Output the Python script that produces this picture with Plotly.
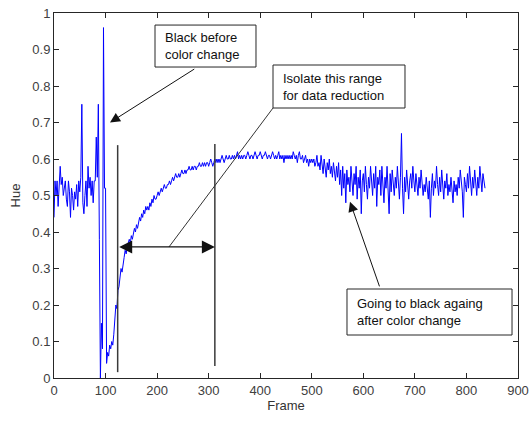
import plotly.graph_objects as go

# Hue per frame (every 2nd frame)
hue = [
    0.44, 0.54, 0.50, 0.54, 0.47, 0.52, 0.58, 0.53, 0.55, 0.50,
    0.52, 0.54, 0.49, 0.47, 0.54, 0.51, 0.44, 0.52, 0.50, 0.46,
    0.51, 0.49, 0.53, 0.47, 0.54, 0.51, 0.55, 0.75, 0.48, 0.45,
    0.50, 0.54, 0.47, 0.58, 0.52, 0.55, 0.50, 0.54, 0.48, 0.54,
    0.54, 0.66, 0.55, 0.75, 0.38, 0.00, 0.15, 0.08, 0.96, 0.52,
    0.52, 0.04, 0.07, 0.06, 0.09, 0.08, 0.10, 0.09, 0.12, 0.16,
    0.20, 0.19, 0.24, 0.25, 0.27, 0.30, 0.29, 0.32, 0.33, 0.35,
    0.34, 0.36, 0.37, 0.38, 0.37, 0.39, 0.38, 0.40, 0.41, 0.40,
    0.42, 0.41, 0.43, 0.44, 0.43, 0.45, 0.44, 0.46, 0.45, 0.47,
    0.46, 0.47, 0.46, 0.48, 0.47, 0.49, 0.48, 0.50, 0.49, 0.49,
    0.50, 0.51, 0.50, 0.51, 0.52, 0.51, 0.52, 0.53, 0.52, 0.52,
    0.53, 0.53, 0.54, 0.53, 0.54, 0.55, 0.54, 0.55, 0.56, 0.55,
    0.55, 0.56, 0.55, 0.56, 0.57, 0.56, 0.56, 0.57, 0.56, 0.57,
    0.57, 0.58, 0.57, 0.57, 0.58, 0.57, 0.58, 0.58, 0.57, 0.58,
    0.58, 0.59, 0.58, 0.58, 0.59, 0.58, 0.59, 0.58, 0.59, 0.59,
    0.58, 0.59, 0.60, 0.59, 0.58, 0.59, 0.60, 0.59, 0.60, 0.59,
    0.60, 0.59, 0.60, 0.61, 0.60, 0.59, 0.60, 0.61, 0.60, 0.60,
    0.61, 0.60, 0.60, 0.61, 0.60, 0.61, 0.60, 0.61, 0.62, 0.60,
    0.61, 0.60, 0.61, 0.60, 0.61, 0.61, 0.60, 0.61, 0.62, 0.61,
    0.60, 0.61, 0.61, 0.60, 0.61, 0.62, 0.61, 0.60, 0.61, 0.61,
    0.62, 0.61, 0.60, 0.61, 0.61, 0.62, 0.61, 0.60, 0.61, 0.61,
    0.60, 0.61, 0.62, 0.61, 0.60, 0.61, 0.60, 0.61, 0.62, 0.60,
    0.61, 0.60, 0.61, 0.59, 0.61, 0.60, 0.61, 0.60, 0.61, 0.60,
    0.61, 0.60, 0.62, 0.61, 0.60, 0.61, 0.59, 0.61, 0.62, 0.60,
    0.60, 0.61, 0.59, 0.60, 0.61, 0.59, 0.60, 0.58, 0.60, 0.59,
    0.60, 0.59, 0.60, 0.58, 0.59, 0.61, 0.58, 0.59, 0.57, 0.61,
    0.59, 0.56, 0.60, 0.58, 0.55, 0.59, 0.57, 0.60, 0.56, 0.58,
    0.55, 0.59, 0.57, 0.54, 0.58, 0.55, 0.59, 0.53, 0.57, 0.50,
    0.58, 0.52, 0.56, 0.48, 0.57, 0.53, 0.55, 0.51, 0.58, 0.54,
    0.50, 0.56, 0.53, 0.58, 0.49, 0.55, 0.52, 0.57, 0.45, 0.54,
    0.56, 0.51, 0.58, 0.53, 0.49, 0.55, 0.52, 0.58, 0.54, 0.50,
    0.56, 0.52, 0.58, 0.47, 0.55, 0.53, 0.57, 0.50, 0.58, 0.52,
    0.48, 0.55, 0.52, 0.58, 0.53, 0.45, 0.56, 0.51, 0.57, 0.54,
    0.50, 0.55, 0.52, 0.58, 0.53, 0.49, 0.55, 0.67, 0.52, 0.45,
    0.55, 0.51, 0.57, 0.53, 0.49, 0.54, 0.56, 0.52, 0.58, 0.54,
    0.51, 0.56, 0.53, 0.50, 0.55, 0.52, 0.57, 0.54, 0.50, 0.53,
    0.51, 0.55, 0.52, 0.49, 0.54, 0.44, 0.52, 0.56, 0.50, 0.54,
    0.52, 0.58, 0.53, 0.50, 0.55, 0.51, 0.57, 0.53, 0.49, 0.54,
    0.52, 0.56, 0.50, 0.53, 0.51, 0.55, 0.52, 0.48, 0.54, 0.51,
    0.53, 0.50, 0.55, 0.52, 0.57, 0.54, 0.51, 0.44, 0.55, 0.53,
    0.51, 0.56, 0.52, 0.58, 0.54, 0.50, 0.55, 0.52, 0.57, 0.53,
    0.50, 0.55, 0.52, 0.58, 0.54, 0.51, 0.56, 0.53, 0.52,
]
frames = [2 * i for i in range(len(hue))]

x_ticks = [0, 100, 200, 300, 400, 500, 600, 700, 800, 900]
y_ticks = [0, 0.1, 0.2, 0.3, 0.4, 0.5, 0.6, 0.7, 0.8, 0.9, 1]
y_tick_labels = ["0", "0.1", "0.2", "0.3", "0.4", "0.5", "0.6", "0.7", "0.8", "0.9", "1"]

# range markers (frames)
range_start = 123.5
range_end = 312

FONT = "Liberation Sans, Arial, sans-serif"
AX = "#262626"

fig = go.Figure()
fig.add_trace(go.Scatter(x=frames, y=hue, mode="lines",
                         line=dict(color="#0000ff", width=1), showlegend=False,
                         hoverinfo="skip"))

shapes = [
    # vertical range markers
    dict(type="line", xref="x", yref="y", x0=range_start, x1=range_start, y0=0.016, y1=0.638,
         line=dict(color="#3a3a3a", width=1.5)),
    dict(type="line", xref="x", yref="y", x0=range_end, x1=range_end, y0=0.033, y1=0.641,
         line=dict(color="#3a3a3a", width=1.5)),
    # connector from box 2 to the range arrow
    dict(type="line", xref="x", yref="y", x0=424.8, y0=0.7397, x1=223, y1=0.359,
         line=dict(color="#333333", width=1)),
    # text boxes
    dict(type="rect", xref="x", yref="y", x0=195.9, x1=391.8, y0=0.852, y1=0.967,
         line=dict(color=AX, width=1), fillcolor="white"),
    dict(type="rect", xref="x", yref="y", x0=424.8, x1=680.8, y0=0.7397, y1=0.8575,
         line=dict(color=AX, width=1), fillcolor="white"),
    dict(type="rect", xref="x", yref="y", x0=568.3, x1=888.4, y0=0.1178, y1=0.2438,
         line=dict(color=AX, width=1), fillcolor="white"),
]

txt_font = dict(family=FONT, size=13, color="#111111")
annotations = [
    dict(x=211.4, y=0.9096, xref="x", yref="y", xanchor="left", yanchor="middle", align="left",
         text="Black before<br>color change", showarrow=False, font=txt_font),
    dict(x=440.3, y=0.7986, xref="x", yref="y", xanchor="left", yanchor="middle", align="left",
         text="Isolate this range<br>for data reduction", showarrow=False, font=txt_font),
    dict(x=583.8, y=0.1808, xref="x", yref="y", xanchor="left", yanchor="middle", align="left",
         text="Going to black againg<br>after color change", showarrow=False, font=txt_font),
    # arrows
    dict(x=108.6, y=0.70, ax=275, ay=0.849, xref="x", yref="y", axref="x", ayref="y",
         text="", showarrow=True, arrowhead=2, arrowsize=2, arrowwidth=1, arrowcolor="#111111",
         standoff=0, startstandoff=0),
    dict(x=574.1, y=0.483, ax=632.3, ay=0.247, xref="x", yref="y", axref="x", ayref="y",
         text="", showarrow=True, arrowhead=2, arrowsize=2, arrowwidth=1, arrowcolor="#111111",
         standoff=0, startstandoff=0),
    dict(x=range_end, y=0.359, ax=range_start, ay=0.359, xref="x", yref="y", axref="x", ayref="y",
         text="", showarrow=True, arrowside="end+start", arrowhead=2, startarrowhead=2,
         arrowsize=2, startarrowsize=2, arrowwidth=1.3, arrowcolor="#111111",
         standoff=0, startstandoff=0),
]

axis_common = dict(showline=True, linecolor=AX, linewidth=1, mirror="ticks", ticks="inside",
                   ticklen=5, tickcolor=AX, showgrid=False, zeroline=False, automargin=False,
                   tickfont=dict(family=FONT, size=13, color="#404040"))

fig.update_layout(
    width=529, height=422,
    margin=dict(l=54, r=11, t=13, b=44),
    paper_bgcolor="white", plot_bgcolor="white",
    shapes=shapes, annotations=annotations,
    xaxis=dict(range=[0, 900], tickvals=x_ticks, title=dict(text="Frame", standoff=4,
               font=dict(family=FONT, size=13, color="#333333")), **axis_common),
    yaxis=dict(range=[0, 1], tickvals=y_ticks, ticktext=y_tick_labels,
               title=dict(text="Hue", standoff=8, font=dict(family=FONT, size=13, color="#333333")),
               **axis_common),
)

fig.write_html("out.html")
